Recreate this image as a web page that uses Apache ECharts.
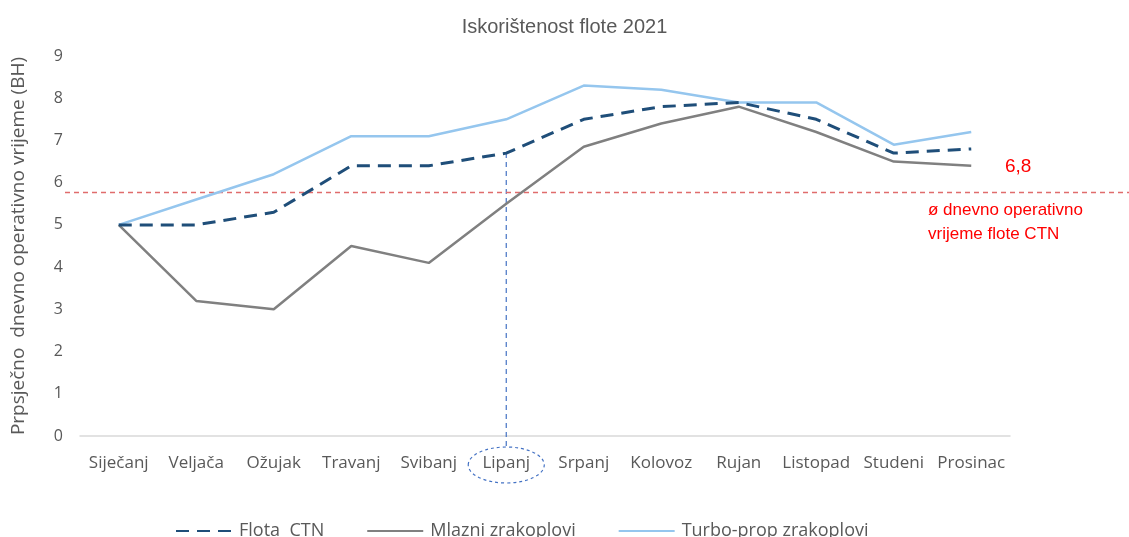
<!DOCTYPE html>
<html><head><meta charset="utf-8">
<script src="https://cdn.jsdelivr.net/npm/echarts@6/dist/echarts.min.js"></script>
<style>html,body{margin:0;padding:0;background:#fff}#c{width:1129px;height:537px}</style>
</head><body><div id="c"></div>
<script>
const months = ['Siječanj','Veljača','Ožujak','Travanj','Svibanj','Lipanj','Srpanj','Kolovoz','Rujan','Listopad','Studeni','Prosinac'];
const flota  = [5.0, 5.0, 5.3, 6.4, 6.4, 6.7, 7.5, 7.8, 7.9, 7.5, 6.7, 6.8];
const mlazni = [5.0, 3.2, 3.0, 4.5, 4.1, 5.5, 6.85, 7.4, 7.8, 7.2, 6.5, 6.4];
const turbo  = [5.0, 5.6, 6.2, 7.1, 7.1, 7.5, 8.3, 8.2, 7.9, 7.9, 6.9, 7.2];
const yMin = 0, yMax = 9, yStep = 1;
const avgLine = 5.77;
const avgLabel = '6,8';
const avgText = ['ø dnevno operativno', 'vrijeme flote CTN'];
const highlightMonth = 'Lipanj';
const seriesNames = ['Flota  CTN', 'Mlazni zrakoplovi', 'Turbo-prop zrakoplovi'];

const chart = echarts.init(document.getElementById('c'), null, {renderer: 'canvas'});
const narrow = '"Liberation Sans Narrow", "Arial Narrow", "Liberation Sans", sans-serif';
const ui = '"Open Sans", "Noto Sans", sans-serif';
const gTop = 56, gBottom = 101;

chart.setOption({
  animation: false,
  backgroundColor: '#fff',
  title: {
    text: 'Iskorištenost flote 2021', left: 'center', top: 12,
    textStyle: {fontFamily: narrow, fontSize: 20, fontWeight: 'normal', color: '#595959'}
  },
  legend: {
    data: seriesNames, top: 517, left: 170, itemWidth: 56, itemHeight: 14, itemGap: 42,
    itemStyle: {opacity: 0},
    textStyle: {fontFamily: ui, fontSize: 18, color: '#595959', padding: [0, 0, 0, 2]}
  },
  grid: [
    {left: 80, right: 119, top: gTop, bottom: gBottom},
    {left: 65, right: 0, top: gTop, bottom: gBottom}
  ],
  xAxis: [
    {type: 'category', data: months, gridIndex: 0, boundaryGap: true,
     axisLine: {lineStyle: {color: '#D9D9D9', width: 1.5}}, axisTick: {show: false},
     axisLabel: {fontFamily: ui, fontSize: 17, color: '#595959', margin: 19, interval: 0}},
    {type: 'value', gridIndex: 1, min: 0, max: 1, show: false}
  ],
  yAxis: [
    {type: 'value', gridIndex: 0, min: yMin, max: yMax, interval: yStep,
     name: 'Prpsječno  dnevno operativno vrijeme (BH)', nameLocation: 'middle', nameGap: 52,
     nameTextStyle: {fontFamily: ui, fontSize: 19, color: '#595959'},
     axisLine: {show: false}, axisTick: {show: false}, splitLine: {show: false},
     axisLabel: {fontFamily: ui, fontSize: 16, color: '#595959', margin: 17}},
    {type: 'value', gridIndex: 1, min: yMin, max: yMax, show: false}
  ],
  series: [
    {name: seriesNames[0], type: 'line', data: flota, symbol: 'none', z: 4,
     lineStyle: {color: '#1F4E79', width: 3, type: [13, 8]}, itemStyle: {color: '#1F4E79'}},
    {name: seriesNames[1], type: 'line', data: mlazni, symbol: 'none', z: 3,
     lineStyle: {color: '#808080', width: 2.5}, itemStyle: {color: '#808080'}},
    {name: seriesNames[2], type: 'line', data: turbo, symbol: 'none', z: 2,
     lineStyle: {color: '#95C6EE', width: 2.5}, itemStyle: {color: '#95C6EE'}},
    {name: 'avg', type: 'line', xAxisIndex: 1, yAxisIndex: 1, data: [[0, avgLine], [1, avgLine]],
     symbol: 'none', silent: true, z: 1,
     lineStyle: {color: '#E06C6C', width: 1.5, type: [5, 4]}}
  ]
});

const hi = months.indexOf(highlightMonth);
const pTop = chart.convertToPixel({xAxisIndex: 0, yAxisIndex: 0}, [highlightMonth, flota[hi]]);
const pAxis = chart.convertToPixel({xAxisIndex: 0, yAxisIndex: 0}, [highlightMonth, 0]);
const ellCy = pAxis[1] + 29, ellRy = 18;
chart.setOption({
  graphic: [
    {type: 'line', shape: {x1: pTop[0], y1: pTop[1], x2: pTop[0], y2: ellCy - ellRy},
     style: {stroke: '#4472C4', lineWidth: 1.2, lineDash: [5, 4]}, z: 1},
    {type: 'ellipse', shape: {cx: pAxis[0], cy: ellCy, rx: 38, ry: ellRy},
     style: {fill: 'none', stroke: '#4472C4', lineWidth: 1.2, lineDash: [3, 3]}},
    {type: 'text', left: 1005, top: 157,
     style: {text: avgLabel, fontFamily: narrow, fontSize: 19, fill: '#FF0000'}},
    {type: 'text', left: 928, top: 198,
     style: {text: avgText.join('\n'), fontFamily: narrow, fontSize: 17, lineHeight: 24, fill: '#FF0000'}}
  ]
});
</script></body></html>
